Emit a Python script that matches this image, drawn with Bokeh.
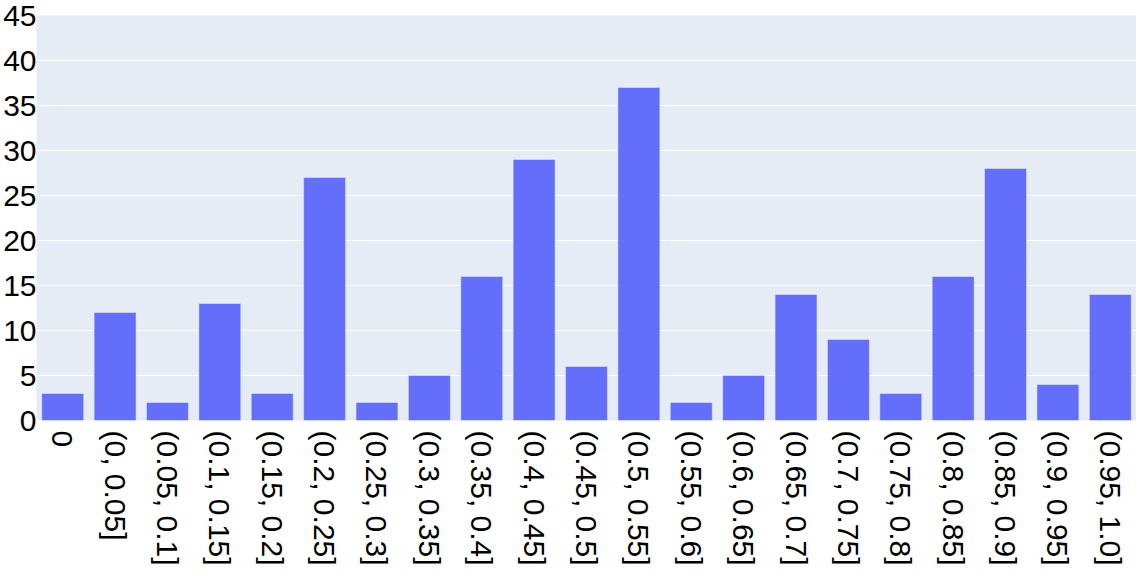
import math
from bokeh.plotting import figure
from bokeh.models import ColumnDataSource, FactorRange, Range1d, SingleIntervalTicker
from bokeh.embed import file_html
from bokeh.resources import INLINE

categories = ["0", "(0, 0.05]", "(0.05, 0.1]", "(0.1, 0.15]", "(0.15, 0.2]", "(0.2, 0.25]",
              "(0.25, 0.3]", "(0.3, 0.35]", "(0.35, 0.4]", "(0.4, 0.45]", "(0.45, 0.5]",
              "(0.5, 0.55]", "(0.55, 0.6]", "(0.6, 0.65]", "(0.65, 0.7]", "(0.7, 0.75]",
              "(0.75, 0.8]", "(0.8, 0.85]", "(0.85, 0.9]", "(0.9, 0.95]", "(0.95, 1.0]"]
counts = [3, 12, 2, 13, 3, 27, 2, 5, 16, 29, 6, 37, 2, 5, 14, 9, 3, 16, 28, 4, 14]

source = ColumnDataSource(data=dict(cat=categories, count=counts))

FONT = "Liberation Sans"

p = figure(width=1136, height=576, output_backend="svg", toolbar_location=None,
           x_range=FactorRange(factors=categories, range_padding=0),
           y_range=Range1d(0, 45))
p.min_border_top = 15
p.min_border_right = 0
p.min_border_left = 0
p.min_border_bottom = 156
p.outline_line_color = None
p.background_fill_color = "#E5ECF6"
p.border_fill_color = "white"

p.vbar(x="cat", top="count", width=0.8, source=source,
       fill_color="#636EFA", line_color="#E5ECF6", line_width=0.5)

p.yaxis.ticker = SingleIntervalTicker(interval=5)
for ax in (p.xaxis[0], p.yaxis[0]):
    ax.axis_line_color = None
    ax.major_tick_line_color = None
    ax.minor_tick_line_color = None
    ax.major_tick_in = 0
    ax.major_tick_out = 0
    ax.minor_tick_in = 0
    ax.minor_tick_out = 0
    ax.major_label_text_font = FONT
    ax.major_label_text_font_size = "30px"
    ax.major_label_text_color = "black"
p.yaxis.major_label_standoff = 0
p.xaxis.major_label_standoff = 10
p.xaxis.major_label_orientation = -math.pi / 2

p.xgrid.grid_line_color = None
p.ygrid.grid_line_color = "white"
p.ygrid.grid_line_width = 1

open("out.html", "w").write(file_html(p, INLINE))
